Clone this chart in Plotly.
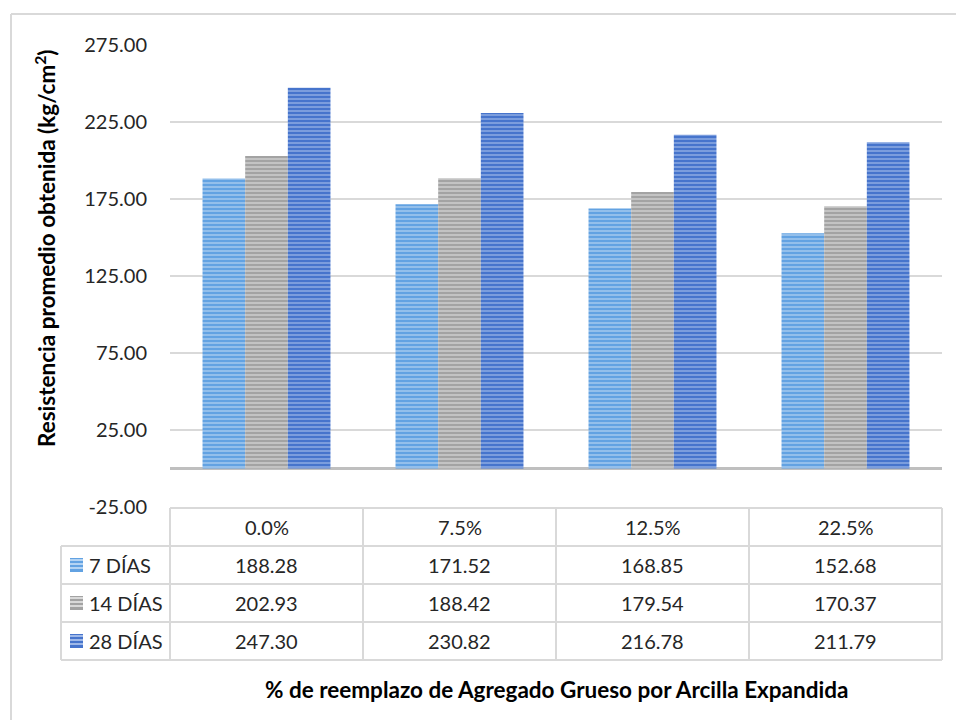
import plotly.graph_objects as go

categories = ["0.0%", "7.5%", "12.5%", "22.5%"]
series_names = ["7 DÍAS", "14 DÍAS", "28 DÍAS"]
dias7 = [188.28, 171.52, 168.85, 152.68]
dias14 = [202.93, 188.42, 179.54, 170.37]
dias28 = [247.30, 230.82, 216.78, 211.79]
series_values = [dias7, dias14, dias28]
ytick_vals = [-25, 25, 75, 125, 175, 225, 275]
ytick_text = ["-25.00", "25.00", "75.00", "125.00", "175.00", "225.00", "275.00"]

colors = ["#62a2e2", "#a3a3a3", "#4674cc"]
stripe = ["#cfe3f8", "#ebebeb", "#bccff2"]

W, H = 956, 720
ML, MR, MT, MB = 170, 14, 45, 213
PW, PH = W - ML - MR, H - MT - MB


def xp(px):
    return (px - ML) / PW


def yp(py):
    return (H - MB - py) / PH


FONT = "Lato"
fig = go.Figure()
for name, vals, c, s in zip(series_names, series_values, colors, stripe):
    fig.add_trace(go.Bar(
        x=categories, y=vals, name=name,
        marker=dict(color=c, line=dict(width=0),
                    pattern=dict(shape="-", fgcolor=s, bgcolor=c, size=4,
                                 solidity=0.45, fillmode="overlay")),
        showlegend=False,
    ))

shapes = []
line = dict(color="#d9d9d9", width=2)
# outer border (top & left)
shapes.append(dict(type="line", xref="paper", yref="paper", x0=xp(11), x1=xp(960),
                   y0=yp(14), y1=yp(14), line=line))
shapes.append(dict(type="line", xref="paper", yref="paper", x0=xp(11), x1=xp(11),
                   y0=yp(14), y1=yp(725), line=line))
# table
table_left = 61
col_edges = [170, 363, 556, 749, 942]
row_edges = [508, 546, 584, 622, 660]
shapes.append(dict(type="line", xref="paper", yref="paper", x0=xp(170), x1=xp(942),
                   y0=yp(508), y1=yp(508), line=line))
for r in row_edges[1:]:
    shapes.append(dict(type="line", xref="paper", yref="paper", x0=xp(table_left), x1=xp(942),
                       y0=yp(r), y1=yp(r), line=line))
shapes.append(dict(type="line", xref="paper", yref="paper", x0=xp(table_left), x1=xp(table_left),
                   y0=yp(546), y1=yp(660), line=line))
for c in col_edges:
    shapes.append(dict(type="line", xref="paper", yref="paper", x0=xp(c), x1=xp(c),
                       y0=yp(508), y1=yp(660), line=line))

annotations = []
tf = dict(family=FONT, size=20, color="#262626")
for cat in categories:
    annotations.append(dict(x=cat, xref="x", y=yp(527), yref="paper", text=cat,
                            showarrow=False, font=tf, xanchor="center", yanchor="middle"))
row_centers = [565, 603, 641]
for i, (name, vals) in enumerate(zip(series_names, series_values)):
    yc = yp(row_centers[i])
    for cat, v in zip(categories, vals):
        annotations.append(dict(x=cat, xref="x", y=yc, yref="paper", text=f"{v:.2f}",
                                showarrow=False, font=tf, xanchor="center", yanchor="middle"))
    annotations.append(dict(x=xp(87), xref="paper", y=yc, yref="paper", text=name,
                            showarrow=False, font=tf, xanchor="left", yanchor="middle"))
    shapes.append(dict(type="rect", xref="paper", yref="paper",
                       x0=xp(70), x1=xp(83), y0=yp(row_centers[i] - 7), y1=yp(row_centers[i] + 7),
                       fillcolor=colors[i], line=dict(width=0)))
    for k in range(3):
        yy = row_centers[i] - 5 + 4 * k
        shapes.append(dict(type="line", xref="paper", yref="paper",
                           x0=xp(70), x1=xp(83), y0=yp(yy), y1=yp(yy),
                           line=dict(color=stripe[i], width=1.5)))

annotations.append(dict(x=xp(45), xref="paper", y=yp(248), yref="paper",
                        text="Resistencia promedio obtenida (kg/cm<sup>2</sup>)",
                        textangle=-90, showarrow=False,
                        font=dict(family=FONT, size=22.5, color="#000000", weight="bold"),
                        xanchor="center", yanchor="middle"))
annotations.append(dict(x=0.5, xref="paper", y=yp(689), yref="paper",
                        text="% de reemplazo de Agregado Grueso por Arcilla Expandida",
                        showarrow=False,
                        font=dict(family=FONT, size=22.5, color="#000000", weight="bold"),
                        xanchor="center", yanchor="middle"))

fig.update_layout(
    width=W, height=H,
    margin=dict(l=ML, r=MR, t=MT, b=MB, pad=0),
    paper_bgcolor="white", plot_bgcolor="white",
    barmode="group", bargap=0.337, bargroupgap=0,
    shapes=shapes, annotations=annotations,
    font=dict(family=FONT, size=20, color="#262626"),
)
fig.update_xaxes(showticklabels=False, showgrid=False, showline=False, zeroline=False,
                 range=[-0.5, 3.5], fixedrange=True)
fig.update_yaxes(range=[-25, 275], tickvals=ytick_vals, ticktext=ytick_text,
                 showgrid=True, gridcolor="#d9d9d9", gridwidth=1.5,
                 zeroline=True, zerolinecolor="#bfbfbf", zerolinewidth=3,
                 showline=False, ticks="", ticklabelstandoff=22,
                 tickfont=dict(family=FONT, size=20, color="#262626"))

fig.write_html("out.html")
